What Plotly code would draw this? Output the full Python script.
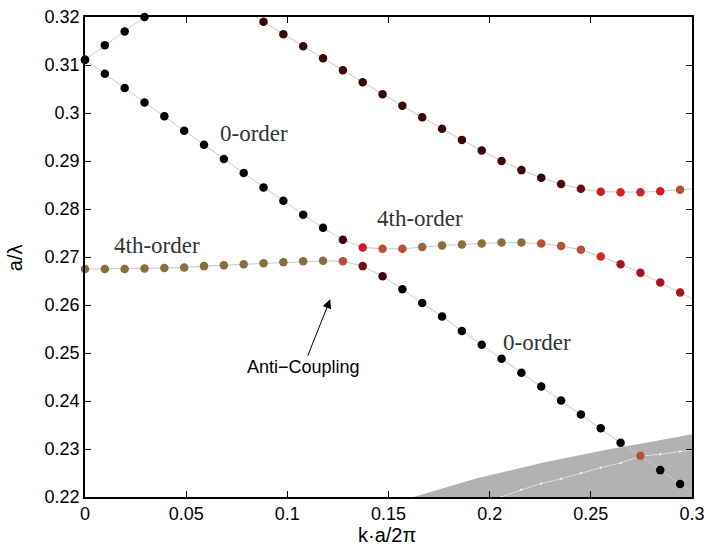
import plotly.graph_objects as go

# ---------------- data ----------------
# k grid index (k = i * 0.5/51)
STEP = 0.5 / 51

# lowest guided band (4th-order flat -> 0-order descending), i = 0..31
band_low = [0.2675, 0.2675, 0.2675, 0.2676, 0.2677, 0.2678, 0.2681, 0.2683, 0.2685, 0.2687,
            0.2689, 0.2691, 0.2692, 0.2691, 0.2681, 0.2660, 0.2633, 0.2604, 0.2576, 0.2546,
            0.2517, 0.2488, 0.2459, 0.2430, 0.2401, 0.2372, 0.2343, 0.2313, 0.2286, 0.2256,
            0.2227, 0.2198]
band_low_col = (["#8a6e3e"] * 13 + ["#b5503a", "#6e1016", "#3a0608"] + ["#000000"] * 12
                + ["#b5503a", "#000000", "#000000", "#000000"])

# middle band (0-order descending -> 4th-order), i = 0..31
band_mid = [0.3111, 0.3082, 0.3052, 0.3022, 0.2993, 0.2963, 0.2934, 0.2904, 0.2875, 0.2845,
            0.2817, 0.2788, 0.2761, 0.2736, 0.2720, 0.2717, 0.2717, 0.2721, 0.2724, 0.2726,
            0.2728, 0.2730, 0.2730, 0.2728, 0.2723, 0.2715, 0.2701, 0.2685, 0.2667, 0.2647,
            0.2626, 0.2605]
band_mid_col = (["#000000"] * 13 + ["#3a0608", "#c8202a", "#b5503a", "#b5503a", "#9a663e"]
                + ["#8a6e3e"] * 5 + ["#b5503a", "#b0553a", "#b5503a", "#d02a2e"]
                + ["#a8141e"] * 5)

# upper band (rising from 0.311, leaves the window, returns), i = 0..31
band_top = [0.3111, 0.3141, 0.3170, 0.3200, 0.3228, 0.3246, 0.3252, 0.3240, 0.3216, 0.3190,
            0.3164, 0.3139, 0.3114, 0.3089, 0.3064, 0.3039, 0.3015, 0.2991, 0.2967, 0.2944,
            0.2922, 0.2900, 0.2881, 0.2865, 0.2852, 0.2842, 0.2836, 0.2835, 0.2835, 0.2837,
            0.2840, 0.2843]
band_top_col = (["#000000"] * 4 + ["#3a0608"] * 20 + ["#4a0a0c", "#6a0e14", "#c8202a",
                "#d42428", "#cc2228", "#c42026", "#b5503a", "#b5503a"])

# radiative band inside the light cone, i = 20..31
cone_i = list(range(20, 32))
cone_band = [0.2187, 0.2200, 0.2215, 0.2228, 0.2238, 0.2250, 0.2261, 0.2271, 0.2285,
             0.2289, 0.2295, 0.2300]

# light-cone boundary
cone_edge_k = [0.1624, 0.1937, 0.2266, 0.2595, 0.2760, 0.3003]
cone_edge_v = [0.2200, 0.2239, 0.2272, 0.2300, 0.2312, 0.2331]

x_tickvals = [0, 0.05, 0.1, 0.15, 0.2, 0.25, 0.3]
x_ticktext = ["0", "0.05", "0.1", "0.15", "0.2", "0.25", "0.3"]
y_tickvals = [0.22, 0.23, 0.24, 0.25, 0.26, 0.27, 0.28, 0.29, 0.30, 0.31, 0.32]
y_ticktext = ["0.22", "0.23", "0.24", "0.25", "0.26", "0.27", "0.28", "0.29", "0.3", "0.31", "0.32"]

XR = [0, 0.3]
YR = [0.22, 0.32]

# ---------------- figure ----------------
fig = go.Figure()

# light cone (grey region)
poly_x = cone_edge_k + [cone_edge_k[-1], cone_edge_k[0]]
poly_y = cone_edge_v + [YR[0], YR[0]]
fig.add_trace(go.Scatter(x=poly_x, y=poly_y, mode="lines", fill="toself",
                         fillcolor="#b2b2b2", line=dict(width=0, color="#b2b2b2"),
                         hoverinfo="skip", showlegend=False))

# radiative band line + tiny markers
cone_k = [i * STEP for i in cone_i]
fig.add_trace(go.Scatter(x=cone_k, y=cone_band, mode="lines",
                         line=dict(color="#dcdcdc", width=1), showlegend=False))
ck = [k for k, v in zip(cone_k, cone_band) if YR[0] <= v <= YR[1] and k <= XR[1]]
cv = [v for k, v in zip(cone_k, cone_band) if YR[0] <= v <= YR[1] and k <= XR[1]]
fig.add_trace(go.Scatter(x=ck, y=cv, mode="markers",
                         marker=dict(color="#f0f0f0", size=2.5, line=dict(width=0)),
                         showlegend=False))

bands = [(band_top, band_top_col), (band_mid, band_mid_col), (band_low, band_low_col)]

# connecting lines
for vals, _ in bands:
    ks = [i * STEP for i in range(len(vals))]
    fig.add_trace(go.Scatter(x=ks, y=vals, mode="lines",
                             line=dict(color="#c8c8c8", width=1), showlegend=False))

# markers (only points inside the window)
for vals, cols in bands:
    ks, vs, cs = [], [], []
    for i, v in enumerate(vals):
        k = i * STEP
        if XR[0] <= k <= XR[1] + 1e-9 and YR[0] - 1e-4 <= v <= YR[1] + 1e-4:
            ks.append(k); vs.append(v); cs.append(cols[i])
    fig.add_trace(go.Scatter(x=ks, y=vs, mode="markers", cliponaxis=False,
                             marker=dict(color=cs, size=8.5, line=dict(width=0)),
                             showlegend=False))

serif = dict(family="Liberation Serif, Times New Roman, serif", size=23, color="#333333")
sans = dict(family="Liberation Sans, Arial, Helvetica, sans-serif", size=18, color="#000000")
tickf = dict(family="Liberation Sans, Arial, Helvetica, sans-serif", size=18, color="#000000")

for txt, x, y in [("0-order", 0.0833, 0.2958), ("0-order", 0.2235, 0.2521),
                  ("4th-order", 0.1658, 0.2781), ("4th-order", 0.0356, 0.2725)]:
    fig.add_annotation(x=x, y=y, xref="x", yref="y", text=txt, showarrow=False,
                       xanchor="center", yanchor="middle", font=serif)

fig.add_annotation(x=0.1212, y=0.2612, xref="x", yref="y", text="Anti\u2212Coupling",
                   showarrow=True, ax=-27, ay=68, axref="pixel", ayref="pixel",
                   arrowhead=2, arrowsize=1.8, arrowwidth=1, arrowcolor="#000000",
                   font=sans)

# axis titles
fig.add_annotation(x=0.4975, y=-0.08, xref="paper", yref="paper", text="k\u00b7a/2\u03c0",
                   showarrow=False, xanchor="center", yanchor="middle",
                   font=dict(family=sans["family"], size=20, color="#000"))
fig.add_annotation(x=-0.115, y=0.498, xref="paper", yref="paper", text="a/\u03bb",
                   showarrow=False, textangle=-90, xanchor="center", yanchor="middle",
                   font=dict(family=sans["family"], size=20, color="#000"))

axis_common = dict(showgrid=False, zeroline=False, showline=True, linecolor="#000000",
                   linewidth=1.5, mirror="ticks", ticks="inside", ticklen=6,
                   tickcolor="#000000", tickwidth=1, tickfont=tickf, automargin=False)

fig.update_xaxes(range=XR, tickvals=x_tickvals, ticktext=x_ticktext, **axis_common)
fig.update_yaxes(range=YR, tickvals=y_tickvals, ticktext=y_ticktext, **axis_common)

fig.update_layout(width=707, height=548, margin=dict(l=85, r=15, t=17, b=51),
                  paper_bgcolor="white", plot_bgcolor="white", showlegend=False)

fig.write_html("out.html")
